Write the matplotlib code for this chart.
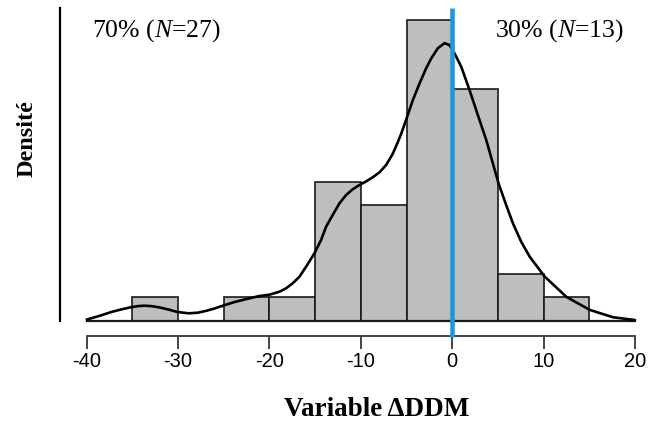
import matplotlib
matplotlib.use("Agg")
import matplotlib.pyplot as plt
import numpy as np

plt.rcParams['font.family'] = ['Liberation Serif', 'DejaVu Serif']
plt.rcParams['mathtext.fontset'] = 'custom'
plt.rcParams['mathtext.rm'] = 'Liberation Serif'
plt.rcParams['mathtext.it'] = 'Liberation Serif:italic'

# Histogram data (bins of width 5)
bin_edges = [-35, -30, -25, -20, -15, -10, -5, 0, 5, 10, 15]
counts = [1, 0, 1, 1, 6, 5, 13, 10, 2, 1]
n_total = 40

# Density curve
curve_x = [-40.0, -38.6, -37.2, -36.2, -35.2, -34.4, -33.7, -32.9, -32.1, -31.1,
           -30.2, -29.5, -28.8, -27.8, -26.9, -26.0, -25.1, -23.8, -22.6, -21.1,
           -20.0, -18.91, -18.18, -17.46, -16.72, -15.99, -15.08, -14.35, -13.80, -13.08,
           -12.34, -11.61, -10.89, -10.15, -9.42, -8.70, -7.96, -7.23, -6.51, -5.96,
           -5.59, -5.04, -4.31, -3.58, -2.85, -2.30, -1.58, -0.84, -0.30, 0.25,
           0.99, 1.89, 2.80, 3.72, 5.07, 5.91, 6.64, 7.55, 8.47, 10.11,
           12.49, 15.04, 17.59, 20.0]
curve_y = [0.0002, 0.0010, 0.0019, 0.0024, 0.00285, 0.0031, 0.0032, 0.0031, 0.00285, 0.0024,
           0.0019, 0.0017, 0.00155, 0.0017, 0.0021, 0.0026, 0.0032, 0.0040, 0.0046, 0.00529,
           0.00557, 0.00622, 0.00695, 0.00803, 0.00946, 0.01162, 0.01451, 0.01739, 0.02026, 0.02279,
           0.02531, 0.02711, 0.02834, 0.02927, 0.03005, 0.03093, 0.03200, 0.03360, 0.03600, 0.03850,
           0.04030, 0.04340, 0.0476, 0.0512, 0.0545, 0.0566, 0.0588, 0.0599, 0.0595, 0.0577,
           0.0548, 0.0498, 0.0444, 0.0390, 0.0296, 0.0249, 0.0210, 0.0170, 0.0138, 0.0095,
           0.0051, 0.0023, 0.0007, 0.0001]

xticks = [-40, -30, -20, -10, 0, 10, 20]
left_label = r"70% ($N$=27)"
right_label = r"30% ($N$=13)"

W, H = 651, 428
fig = plt.figure(figsize=(W / 100, H / 100), dpi=100)
ax = fig.add_axes([60 / W, (H - 320.5) / H, 575 / W, 312.5 / H])
ax.set_xlim(-42.92, 20)
ax.set_ylim(0, 0.0675)

widths = np.diff(bin_edges)
dens = np.array(counts) / (n_total * widths)
ax.bar(bin_edges[:-1], dens, width=widths, align='edge', color='#bebebe',
       edgecolor='#1a1a1a', linewidth=1.2, clip_on=False, zorder=2)
ax.plot([-40, 20], [0, 0], color='#1a1a1a', lw=1.6, clip_on=False, zorder=3)
ax.plot(curve_x, curve_y, color='black', lw=1.9, clip_on=False, zorder=4,
        solid_capstyle='round', solid_joinstyle='round')
ax.plot([0, 0], [-0.0036, 0.0675], color='#1b9ad6', lw=3.3, clip_on=False,
        zorder=5, solid_capstyle='butt')

for s in ['top', 'right']:
    ax.spines[s].set_visible(False)
ax.spines['left'].set_linewidth(1.6)
ax.spines['left'].set_color('black')
ax.spines['bottom'].set_position(('outward', 10.8))
ax.spines['bottom'].set_bounds(-40, 20)
ax.spines['bottom'].set_color('#444444')
ax.spines['bottom'].set_linewidth(1.4)
ax.set_yticks([])
ax.set_xticks(xticks)
ax.set_xticklabels([str(t) for t in xticks], family='Liberation Sans', fontsize=14.5)
ax.tick_params(axis='x', length=9, width=1.4, color='#444444', pad=3)

fig.text(92 / W, 1 - 31 / H, left_label, fontsize=18.5, ha='left', va='center')
fig.text(495 / W, 1 - 31 / H, right_label, fontsize=18.5, ha='left', va='center')
fig.text(377 / W, 1 - 410 / H, "Variable ΔDDM", fontsize=19.5, fontweight='bold',
         ha='center', va='center')
fig.text(27 / W, 1 - 139 / H, "Densité", fontsize=17.5, fontweight='bold',
         ha='center', va='center', rotation=90)

fig.savefig("out.png", dpi=100)
